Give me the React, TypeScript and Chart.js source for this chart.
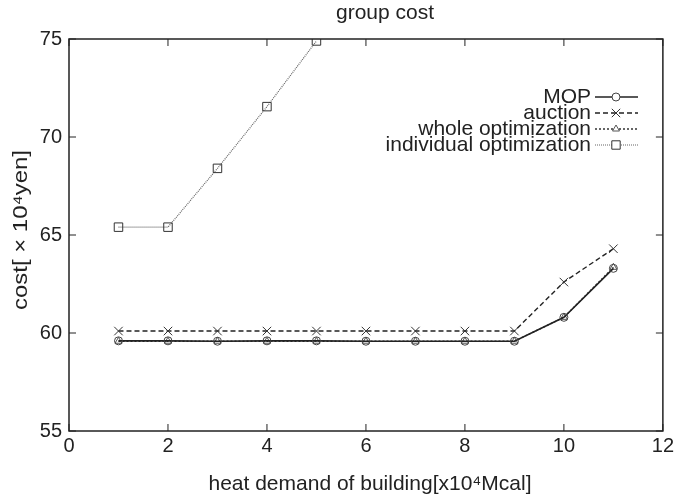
import React, { useEffect, useRef } from "react";
import { Chart, registerables } from "chart.js";
Chart.register(...registerables);

const titleText = "group cost";
const xTitle = "heat demand of building[x10\u2074Mcal]";
const yTitle = "cost[ \u00d7 10\u2074yen]";

const xValues = [1, 2, 3, 4, 5, 6, 7, 8, 9, 10, 11];
const mopValues = [59.6, 59.6, 59.58, 59.6, 59.6, 59.58, 59.58, 59.58, 59.58, 60.8, 63.3];
const auctionValues = [60.1, 60.1, 60.1, 60.1, 60.1, 60.1, 60.1, 60.1, 60.1, 62.6, 64.3];
const wholeValues = [59.58, 59.58, 59.58, 59.58, 59.58, 59.58, 59.58, 59.58, 59.58, 60.8, 63.35];
const individualX = [1, 2, 3, 4, 5];
const individualValues = [65.4, 65.4, 68.4, 71.55, 74.9];

const seriesNames = ["MOP", "auction", "whole optimization", "individual optimization"];

const xTicks = [0, 2, 4, 6, 8, 10, 12];
const yTicks = [55, 60, 65, 70, 75];

const FONT = "'Liberation Sans', Arial, Helvetica, sans-serif";

const toPoints = (xs: number[], ys: number[]) => xs.map((x, i) => ({ x, y: ys[i] }));

const decorPlugin = {
  id: "decor",
  afterDatasetsDraw(chart: any) {
    const { ctx, chartArea: a, scales } = chart;
    const xs = scales.x;
    const ys = scales.y;
    ctx.save();
    // border
    ctx.strokeStyle = "#222";
    ctx.lineWidth = 1.5;
    ctx.strokeRect(a.left, a.top, a.right - a.left, a.bottom - a.top);
    // inward ticks
    ctx.lineWidth = 1;
    const tl = 7;
    xTicks.forEach((v) => {
      const px = xs.getPixelForValue(v);
      ctx.beginPath();
      ctx.moveTo(px, a.bottom);
      ctx.lineTo(px, a.bottom - tl);
      ctx.moveTo(px, a.top);
      ctx.lineTo(px, a.top + tl);
      ctx.stroke();
    });
    yTicks.forEach((v) => {
      const py = ys.getPixelForValue(v);
      ctx.beginPath();
      ctx.moveTo(a.left, py);
      ctx.lineTo(a.left + tl, py);
      ctx.moveTo(a.right, py);
      ctx.lineTo(a.right - tl, py);
      ctx.stroke();
    });
    // title
    ctx.fillStyle = "#222";
    ctx.font = `21px ${FONT}`;
    ctx.textAlign = "center";
    ctx.textBaseline = "middle";
    ctx.fillText(titleText, 385, 13);
    // x title
    ctx.font = `21px ${FONT}`;
    ctx.fillText(xTitle, 370, 484);
    // y title
    ctx.save();
    ctx.font = `21px ${FONT}`;
    const w = ctx.measureText(yTitle).width;
    ctx.translate(21, 230);
    ctx.rotate(-Math.PI / 2);
    ctx.scale(160 / w, 1);
    ctx.fillText(yTitle, 0, 0);
    ctx.restore();
    // legend
    const rows = [97, 113, 129, 145];
    const textRight = 591;
    const lineStart = 595;
    const lineEnd = 638;
    const mid = 616;
    ctx.font = `21px ${FONT}`;
    ctx.textAlign = "right";
    chart.data.datasets.forEach((ds: any, i: number) => {
      const y = rows[i];
      ctx.fillStyle = "#222";
      ctx.fillText(seriesNames[i], textRight, y);
      ctx.save();
      ctx.strokeStyle = ds.borderColor;
      ctx.lineWidth = ds.borderWidth;
      ctx.setLineDash(ds.borderDash || []);
      ctx.beginPath();
      ctx.moveTo(lineStart, y);
      ctx.lineTo(lineEnd, y);
      ctx.stroke();
      ctx.restore();
      ctx.save();
      ctx.fillStyle = "#fff";
      ctx.strokeStyle = ds.pointBorderColor;
      ctx.lineWidth = ds.pointBorderWidth;
      const r = ds.pointRadius;
      const st = ds.pointStyle;
      ctx.beginPath();
      if (st === "circle") {
        ctx.arc(mid, y, r, 0, Math.PI * 2);
        ctx.fill();
        ctx.stroke();
      } else if (st === "crossRot") {
        const d = r * 0.7;
        ctx.moveTo(mid - d, y - d);
        ctx.lineTo(mid + d, y + d);
        ctx.moveTo(mid + d, y - d);
        ctx.lineTo(mid - d, y + d);
        ctx.stroke();
      } else if (st === "triangle") {
        ctx.moveTo(mid, y - r);
        ctx.lineTo(mid + r * 0.87, y + r * 0.5);
        ctx.lineTo(mid - r * 0.87, y + r * 0.5);
        ctx.closePath();
        ctx.fill();
        ctx.stroke();
      } else {
        const s = r * 0.7;
        ctx.rect(mid - s, y - s, 2 * s, 2 * s);
        ctx.fill();
        ctx.stroke();
      }
      ctx.restore();
    });
    ctx.restore();
  },
};

export default function App() {
  const ref = useRef<HTMLCanvasElement | null>(null);
  useEffect(() => {
    if (!ref.current) return;
    const chart = new Chart(ref.current, {
      type: "scatter",
      data: {
        datasets: [
          {
            label: seriesNames[0],
            data: toPoints(xValues, mopValues),
            showLine: true,
            borderColor: "#222",
            borderWidth: 1.6,
            pointStyle: "circle",
            pointRadius: 4,
            pointBorderColor: "#444",
            pointBorderWidth: 1,
            pointBackgroundColor: "rgba(255,255,255,0)",
          },
          {
            label: seriesNames[1],
            data: toPoints(xValues, auctionValues),
            showLine: true,
            borderColor: "#222",
            borderWidth: 1.4,
            borderDash: [5, 3],
            pointStyle: "crossRot",
            pointRadius: 6,
            pointBorderColor: "#333",
            pointBorderWidth: 1,
            pointBackgroundColor: "rgba(255,255,255,0)",
          },
          {
            label: seriesNames[2],
            data: toPoints(xValues, wholeValues),
            showLine: true,
            borderColor: "#333",
            borderWidth: 1.4,
            borderDash: [2, 2],
            pointStyle: "triangle",
            pointRadius: 4,
            pointBorderColor: "#555",
            pointBorderWidth: 1,
            pointBackgroundColor: "rgba(255,255,255,0)",
          },
          {
            label: seriesNames[3],
            data: toPoints(individualX, individualValues),
            showLine: true,
            borderColor: "#666",
            borderWidth: 1.2,
            borderDash: [1, 1],
            pointStyle: "rect",
            pointRadius: 6,
            pointBorderColor: "#333",
            pointBorderWidth: 1,
            pointBackgroundColor: "rgba(255,255,255,0)",
          },
        ],
      },
      options: {
        responsive: false,
        animation: false,
        layout: { padding: { left: 0, top: 39, right: 7, bottom: 0 } },
        plugins: { legend: { display: false }, tooltip: { enabled: false }, title: { display: false } },
        scales: {
          x: {
            type: "linear",
            min: 0,
            max: 12,
            afterFit: (s: any) => { s.height = 69; },
            afterBuildTicks: (s: any) => { s.ticks = xTicks.map((v) => ({ value: v })); },
            grid: { display: false, drawTicks: false },
            border: { display: false },
            ticks: { color: "#222", font: { family: FONT, size: 20 }, padding: 3, maxRotation: 0, autoSkip: false },
          },
          y: {
            type: "linear",
            min: 55,
            max: 75,
            afterFit: (s: any) => { s.width = 69; },
            afterBuildTicks: (s: any) => { s.ticks = yTicks.map((v) => ({ value: v })); },
            grid: { display: false, drawTicks: false },
            border: { display: false },
            ticks: { color: "#222", font: { family: FONT, size: 20 }, padding: 7, autoSkip: false },
          },
        },
      },
      plugins: [decorPlugin],
    });
    return () => chart.destroy();
  }, []);
  return (
    <div style={{ position: "fixed", left: 0, top: 0, width: 677, height: 500, background: "#fff" }}>
      <canvas ref={ref} width={677} height={500} />
    </div>
  );
}
